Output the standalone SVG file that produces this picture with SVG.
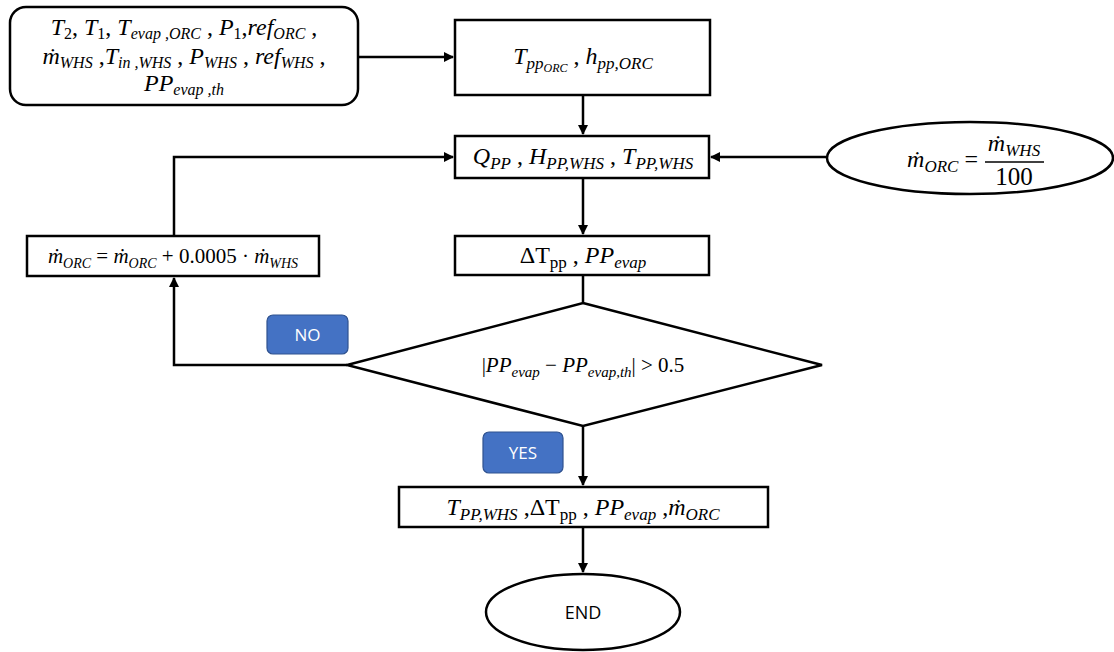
<svg xmlns="http://www.w3.org/2000/svg" width="1114" height="652" viewBox="0 0 1114 652">
  <style>
    .box { fill: #ffffff; stroke: #000000; stroke-width: 2.5; }
    .wire { fill: none; stroke: #000000; stroke-width: 2.5; }
    .btn { fill: #4472C4; stroke: #2F528F; stroke-width: 1.2; }
    .btnt { font-family: "Open Sans", "Liberation Sans", sans-serif; font-size: 17px; fill: #ffffff; text-anchor: middle; }
    .endt { font-family: "Open Sans", "Liberation Sans", sans-serif; font-size: 18px; fill: #000000; text-anchor: middle; }
    .eq { font-family: "Liberation Serif", "DejaVu Serif", serif; font-size: 24px; fill: #000000; text-anchor: middle; }
    .i { font-style: italic; }
    .sb { font-size: 17px; baseline-shift: -5px; font-style: italic; }
    .sn { font-size: 17px; baseline-shift: -5px; font-style: normal; }
    .in .sb, .in .sn { font-size: 16px; baseline-shift: -4px; }
  </style>
  <defs>
    <marker id="arr" viewBox="0 0 10 10" refX="9" refY="5" markerWidth="4" markerHeight="4" orient="auto">
      <path d="M0,0 L10,5 L0,10 z" fill="#000000"/>
    </marker>
  </defs>

  <!-- connectors -->
  <g id="connectors">
    <line class="wire" x1="358" y1="57" x2="453" y2="57" marker-end="url(#arr)"/>
    <line class="wire" x1="583" y1="95" x2="583" y2="134" marker-end="url(#arr)"/>
    <line class="wire" x1="827" y1="157" x2="711" y2="157" marker-end="url(#arr)"/>
    <polyline class="wire" points="174,236 174,157 453,157" marker-end="url(#arr)"/>
    <line class="wire" x1="583" y1="178" x2="583" y2="234" marker-end="url(#arr)"/>
    <line class="wire" x1="583" y1="275" x2="583" y2="302"/>
    <polyline class="wire" points="347,365 174,365 174,278" marker-end="url(#arr)"/>
    <line class="wire" x1="583" y1="426" x2="583" y2="485" marker-end="url(#arr)"/>
    <line class="wire" x1="583" y1="527" x2="583" y2="572" marker-end="url(#arr)"/>
  </g>

  <!-- inputs -->
  <g id="inputs" class="in">
    <rect class="box" x="10" y="7" width="348" height="98" rx="16" ry="16"/>
    <text class="eq" x="184" y="35"><tspan class="i">T</tspan><tspan class="sn">2</tspan>, <tspan class="i">T</tspan><tspan class="sn">1</tspan>, <tspan class="i">T</tspan><tspan class="sb">evap ,ORC</tspan> , <tspan class="i">P</tspan><tspan class="sn">1</tspan>,<tspan class="i">ref</tspan><tspan class="sb">ORC</tspan> ,</text>
    <text class="eq" x="184" y="64"><tspan class="i">ṁ</tspan><tspan class="sb">WHS</tspan> ,<tspan class="i">T</tspan><tspan class="sb">in ,WHS</tspan> , <tspan class="i">P</tspan><tspan class="sb">WHS</tspan> , <tspan class="i">ref</tspan><tspan class="sb">WHS</tspan> ,</text>
    <text class="eq" x="184" y="91"><tspan class="i">PP</tspan><tspan class="sb">evap ,th</tspan></text>
  </g>

  <!-- pinch point temperature and enthalpy -->
  <g id="pinch-orc">
    <rect class="box" x="455" y="20" width="255" height="75"/>
    <text class="eq" x="583" y="64"><tspan class="i">T</tspan><tspan class="sb">pp</tspan><tspan class="sb" style="font-size:12px;baseline-shift:-8px">ORC</tspan> , <tspan class="i">h</tspan><tspan class="sb">pp,ORC</tspan></text>
  </g>

  <!-- heat and whs state at pinch -->
  <g id="pinch-whs">
    <rect class="box" x="455" y="136" width="254" height="42"/>
    <text class="eq" x="583" y="164"><tspan class="i">Q</tspan><tspan class="sb">PP</tspan> , <tspan class="i">H</tspan><tspan class="sb">PP,WHS</tspan> , <tspan class="i">T</tspan><tspan class="sb">PP,WHS</tspan></text>
  </g>

  <!-- initial mass flow -->
  <g id="init-flow">
    <ellipse class="box" cx="970" cy="158" rx="143" ry="36"/>
    <text class="eq" x="978" y="167" style="text-anchor:end"><tspan class="i">ṁ</tspan><tspan class="sb">ORC</tspan> =</text>
    <text class="eq" x="1014" y="151"><tspan class="i">ṁ</tspan><tspan class="sb">WHS</tspan></text>
    <line x1="985" y1="162" x2="1044" y2="162" stroke="#000000" stroke-width="1.5"/>
    <text class="eq" x="1014" y="185" style="font-size:25px">100</text>
  </g>

  <!-- mass flow update -->
  <g id="update-flow">
    <rect class="box" x="27" y="236" width="292" height="40"/>
    <text class="eq" x="173" y="263" style="font-size:21px"><tspan class="i">ṁ</tspan><tspan class="sb" style="font-size:14px">ORC</tspan> = <tspan class="i">ṁ</tspan><tspan class="sb" style="font-size:14px">ORC</tspan> + 0.0005 · <tspan class="i">ṁ</tspan><tspan class="sb" style="font-size:14px">WHS</tspan></text>
  </g>

  <!-- pinch difference -->
  <g id="pinch-delta">
    <rect class="box" x="455" y="236" width="254" height="39"/>
    <text class="eq" x="583" y="263">ΔT<tspan class="sn">pp</tspan> , <tspan class="i">PP</tspan><tspan class="sb">evap</tspan></text>
  </g>

  <!-- convergence check -->
  <g id="check">
    <polygon class="box" points="583,303 822,365 583,426 347,365"/>
    <text class="eq" x="583" y="372" style="font-size:21px">|<tspan class="i">PP</tspan><tspan class="sb" style="font-size:15px">evap</tspan> − <tspan class="i">PP</tspan><tspan class="sb" style="font-size:15px">evap,th</tspan>| &gt; 0.5</text>
  </g>

  <g id="no-label">
    <rect class="btn" x="267" y="315" width="81" height="39" rx="6" ry="6"/>
    <text class="btnt" x="307.5" y="341">NO</text>
  </g>

  <g id="yes-label">
    <rect class="btn" x="483" y="432" width="80" height="41" rx="6" ry="6"/>
    <text class="btnt" x="523" y="459">YES</text>
  </g>

  <!-- results -->
  <g id="results">
    <rect class="box" x="399" y="487" width="369" height="40"/>
    <text class="eq" x="583" y="515"><tspan class="i">T</tspan><tspan class="sb">PP,WHS</tspan> ,ΔT<tspan class="sn">pp</tspan> , <tspan class="i">PP</tspan><tspan class="sb">evap</tspan> ,<tspan class="i">ṁ</tspan><tspan class="sb">ORC</tspan></text>
  </g>

  <g id="end">
    <ellipse class="box" cx="583" cy="612" rx="97" ry="38"/>
    <text class="endt" x="583" y="619">END</text>
  </g>
</svg>
